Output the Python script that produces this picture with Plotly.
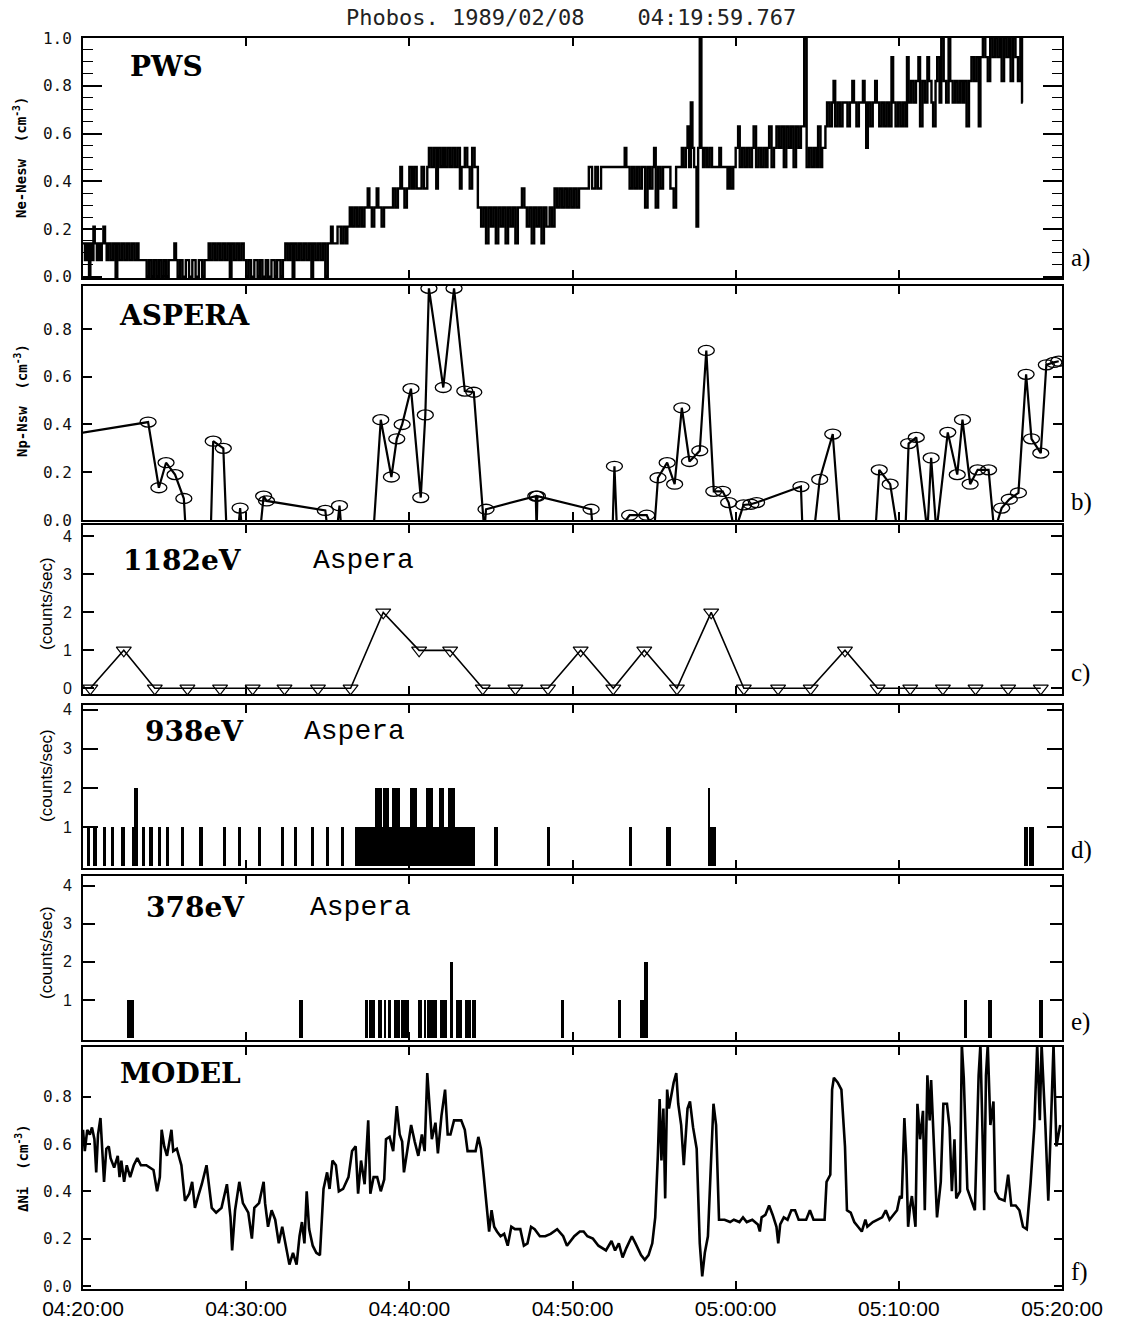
import plotly.graph_objects as go

# ---------------- data ----------------
TITLE = "Phobos. 1989/02/08    04:19:59.767"
TICK_MIN = [0, 10, 20, 30, 40, 50, 60]
TICK_TEXT = ["04:20:00", "04:30:00", "04:40:00", "04:50:00", "05:00:00", "05:10:00", "05:20:00"]

# a) PWS  Ne-Nesw (cm-3): (minutes after 04:20, value), step samples
PWS = [
    (0, .14), (.12, .07), (.25, .14), (.37, 0), (.45, .14), (.55, .07), (.64, .21), (.72, .14), (.85, .07), (.95, .14),
    (1.05, .07), (1.15, .14), (1.25, .21), (1.35, .14), (1.45, .07), (1.55, .14), (1.7, .07), (1.85, .14), (2.0, 0),
    (2.1, .14), (2.25, .07), (2.4, .14), (2.55, .07), (2.7, .14), (2.85, .07), (3.0, .14), (3.15, .07), (3.3, .14),
    (3.4, .07), (3.9, 0), (4.05, .07), (4.2, 0), (4.35, .07), (4.5, 0), (4.65, .07), (4.8, 0), (4.95, .07), (5.1, 0),
    (5.25, .07), (5.6, .14), (5.7, .07), (5.8, 0), (5.95, .07), (6.1, 0), (6.3, .07), (6.5, 0), (6.7, .07), (6.9, 0),
    (7.1, .07), (7.3, 0), (7.45, .07), (7.7, .14), (7.8, .07), (7.95, .14), (8.1, .07), (8.25, .14), (8.4, .07),
    (8.55, .14), (8.7, .07), (8.85, .14), (9.0, 0), (9.1, .14), (9.25, .07), (9.4, .14), (9.55, .07), (9.7, .14),
    (9.85, .07), (10.0, 0), (10.15, .07), (10.3, 0), (10.5, .07), (10.7, 0), (10.85, .07), (11.0, 0), (11.2, .07),
    (11.35, 0), (11.55, .07), (11.75, 0), (11.9, .07), (12.1, 0), (12.25, .07), (12.4, .14), (12.55, .07), (12.7, .14),
    (12.85, 0), (12.95, .14), (13.1, .07), (13.25, .14), (13.4, .07), (13.55, .14), (13.7, .07), (13.85, .14), (14.0, 0),
    (14.1, .14), (14.25, .07), (14.4, .14), (14.55, .07), (14.7, .14), (14.85, 0), (15.0, .14), (15.2, .21), (15.3, .14),
    (15.6, .21), (15.8, .14), (15.95, .21), (16.1, .14), (16.2, .21), (16.35, .29), (16.5, .21), (16.65, .29), (16.8, .21),
    (16.95, .29), (17.1, .21), (17.25, .29), (17.45, .37), (17.55, .29), (17.7, .21), (17.85, .29), (18.0, .37),
    (18.1, .29), (18.3, .21), (18.45, .29), (19.0, .37), (19.15, .29), (19.3, .37), (19.45, .46), (19.55, .37),
    (19.7, .29), (19.85, .37), (20.0, .46), (20.15, .37), (20.3, .46), (20.45, .37), (20.75, .46), (20.9, .37),
    (21.1, .46), (21.2, .54), (21.35, .46), (21.5, .54), (21.65, .37), (21.75, .54), (21.9, .46), (22.05, .54),
    (22.2, .46), (22.35, .54), (22.5, .46), (22.65, .54), (22.8, .46), (22.95, .54), (23.1, .37), (23.2, .46),
    (23.4, .54), (23.55, .46), (23.7, .37), (23.85, .54), (24.0, .46), (24.2, .29), (24.4, .21), (24.55, .29),
    (24.7, .14), (24.85, .29), (25.0, .21), (25.15, .29), (25.3, .14), (25.45, .29), (25.6, .21), (25.75, .29),
    (25.9, .14), (26.05, .29), (26.2, .21), (26.35, .29), (26.5, .14), (26.65, .29), (26.9, .37), (27.05, .29),
    (27.2, .21), (27.35, .29), (27.5, .14), (27.65, .29), (27.8, .21), (27.95, .29), (28.1, .14), (28.25, .29),
    (28.4, .21), (28.6, .29), (28.75, .21), (28.9, .37), (29.05, .29), (29.2, .37), (29.35, .29), (29.5, .37),
    (29.65, .29), (29.8, .37), (29.95, .29), (30.1, .37), (30.25, .29), (30.4, .37), (31.0, .46), (31.2, .37),
    (31.4, .46), (31.55, .37), (31.75, .46), (33.2, .54), (33.3, .46), (33.5, .37), (33.65, .46), (33.8, .37),
    (33.95, .46), (34.1, .37), (34.25, .46), (34.45, .29), (34.6, .46), (34.75, .37), (34.9, .46), (35.0, .54),
    (35.1, .29), (35.25, .46), (35.4, .37), (35.55, .46), (36.0, .37), (36.2, .29), (36.35, .46), (36.7, .54),
    (36.8, .46), (36.95, .54), (37.05, .63), (37.15, .46), (37.25, .73), (37.35, .54), (37.45, .46), (37.6, .21),
    (37.7, .54), (37.8, 1.0), (37.9, .54), (38.0, .46), (38.1, .54), (38.25, .46), (38.4, .54), (38.55, .46),
    (39.0, .54), (39.1, .46), (39.5, .37), (39.6, .46), (39.7, .37), (39.85, .46), (40.0, .54), (40.15, .63),
    (40.25, .46), (40.4, .54), (40.55, .46), (40.7, .54), (40.85, .46), (41.0, .54), (41.1, .63), (41.25, .46),
    (41.4, .54), (41.55, .46), (41.7, .54), (41.85, .46), (41.95, .54), (42.05, .63), (42.2, .46), (42.35, .54),
    (42.5, .63), (42.65, .54), (42.8, .63), (42.95, .46), (43.1, .63), (43.25, .54), (43.4, .63), (43.55, .46),
    (43.7, .63), (43.85, .54), (44.0, .63), (44.2, 1.0), (44.35, .46), (44.5, .54), (44.65, .46), (44.8, .54),
    (44.95, .46), (45.05, .63), (45.2, .46), (45.3, .54), (45.5, .63), (45.6, .73), (45.75, .63), (45.9, .73),
    (46.0, .82), (46.1, .63), (46.25, .73), (46.4, .63), (46.55, .73), (46.85, .63), (47.0, .73), (47.15, .82),
    (47.25, .73), (47.4, .63), (47.55, .73), (47.8, .82), (47.9, .73), (48.0, .54), (48.1, .73), (48.25, .63),
    (48.4, .73), (48.55, .82), (48.65, .73), (48.8, .63), (48.95, .73), (49.1, .63), (49.25, .73), (49.4, .63),
    (49.55, .92), (49.65, .73), (49.8, .63), (49.95, .73), (50.1, .63), (50.25, .73), (50.4, .63), (50.5, .92),
    (50.6, .73), (50.75, .82), (50.9, .73), (51.05, .82), (51.2, .92), (51.3, .63), (51.45, .82), (51.6, .73),
    (51.75, .92), (51.85, .82), (52.0, .73), (52.1, .63), (52.25, .82), (52.35, .92), (52.5, .73), (52.6, 1.0),
    (52.75, .82), (52.9, .73), (53.05, 1.0), (53.15, .82), (53.3, .73), (53.45, .82), (53.6, .73), (53.75, .82),
    (53.9, .73), (54.0, .82), (54.15, .63), (54.3, .82), (54.45, .92), (54.6, .82), (54.75, .92), (54.9, .63),
    (55.0, .92), (55.15, 1.0), (55.3, .92), (55.45, .82), (55.6, 1.0), (55.75, .92), (55.9, 1.0), (56.05, .92),
    (56.2, 1.0), (56.3, .82), (56.45, 1.0), (56.6, .92), (56.75, 1.0), (56.85, .82), (57.0, 1.0), (57.15, .92),
    (57.3, .82), (57.45, 1.0), (57.55, .73), (57.6, .73),
]

# b) ASPERA  Np-Nsw (cm-3); negative values = drop below the axis
ASPERA = [
    (-0.5, 0.36), (3.99, 0.41), (4.65, 0.135), (5.09, 0.24), (5.64, 0.19), (6.18, 0.09), (6.3, -0.05),
    (7.83, -0.05), (7.98, 0.33), (8.6, 0.30), (8.8, -0.05), (9.5, -0.05), (9.63, 0.05), (9.75, -0.05),
    (10.85, -0.05), (11.07, 0.10), (11.25, 0.08), (14.85, 0.04), (15.0, -0.05), (15.55, -0.05), (15.72, 0.06),
    (15.85, -0.05), (17.8, -0.05), (18.25, 0.42), (18.9, 0.18), (19.23, 0.34), (19.56, 0.40), (20.1, 0.55),
    (20.7, 0.094), (20.98, 0.44), (21.2, 0.97), (22.08, 0.555), (22.74, 0.97), (23.4, 0.54), (23.95, 0.535),
    (24.6, -0.05), (24.7, 0.045), (27.75, 0.10), (27.8, -0.05), (27.85, 0.10), (31.14, 0.045), (31.25, -0.05),
    (32.45, -0.05), (32.57, 0.225), (32.73, -0.05), (33.5, 0.02), (34.55, 0.02), (35.0, -0.05), (35.24, 0.177),
    (35.8, 0.24), (36.26, 0.15), (36.7, 0.47), (37.17, 0.245), (37.8, 0.29), (38.2, 0.71), (38.66, 0.12),
    (39.2, 0.12), (39.57, 0.073), (39.95, -0.05), (40.48, 0.063), (40.93, 0.066), (41.28, 0.073), (44.0, 0.14),
    (44.1, -0.05), (44.8, -0.05), (45.15, 0.17), (45.95, 0.36), (46.4, -0.05), (48.56, -0.05), (48.8, 0.21),
    (49.47, 0.15), (49.93, -0.05), (50.4, -0.05), (50.6, 0.32), (51.07, 0.346), (51.75, -0.05), (51.98, 0.26),
    (52.3, -0.05), (53.0, 0.367), (53.58, 0.19), (53.9, 0.42), (54.37, 0.15), (54.83, 0.21), (55.5, 0.21),
    (55.85, -0.05), (56.3, 0.05), (56.77, 0.087), (57.33, 0.114), (57.8, 0.61), (58.13, 0.34), (58.7, 0.28),
    (59.04, 0.65), (59.5, 0.66), (59.8, 0.665),
]

# c) 1182 eV counts/sec
C1182_T = [0.45, 2.5, 4.4, 6.4, 8.4, 10.4, 12.35, 14.4, 16.4, 18.4, 20.6, 22.5, 24.5, 26.5, 28.5,
           30.5, 32.5, 34.4, 36.4, 38.5, 40.5, 42.6, 44.6, 46.7, 48.7, 50.7, 52.7, 54.7, 56.7, 58.7]
C1182_V = [0, 1, 0, 0, 0, 0, 0, 0, 0, 2, 1, 1, 0, 0, 0, 1, 0, 1, 0, 2, 0, 0, 0, 1, 0, 0, 0, 0, 0, 0]

# d) 938 eV pulses: start, end (minutes), counts/sec
D938_START = [0.25, 0.6, 1.2, 1.72, 2.3, 3.05, 3.15, 3.6, 4.07, 4.58, 5.08, 6.0, 7.13, 8.55, 9.47, 10.7,
              12.13, 12.94, 13.96, 14.88, 15.8, 16.7, 17.9, 18.3, 18.4, 18.75, 18.95, 19.4, 20.05, 20.45,
              21.05, 21.45, 21.8, 22.1, 22.35, 22.8, 25.2, 28.42, 33.45, 35.7, 38.3, 38.45, 57.65, 58.0]
D938_END = [0.45, 0.85, 1.4, 1.92, 2.6, 3.15, 3.35, 3.8, 4.27, 4.78, 5.28, 6.2, 7.33, 8.75, 9.67, 10.9,
            12.33, 13.14, 14.16, 15.08, 16.0, 17.9, 18.3, 18.4, 18.75, 18.95, 19.4, 20.05, 20.45, 21.05,
            21.45, 21.8, 22.1, 22.35, 22.8, 24.05, 25.45, 28.62, 33.65, 36.05, 38.45, 38.8, 57.9, 58.3]
D938_H = [1, 1, 1, 1, 1, 1, 2, 1, 1, 1, 1, 1, 1, 1, 1, 1,
          1, 1, 1, 1, 1, 1, 2, 1, 2, 1, 2, 1, 2, 1,
          2, 1, 2, 1, 2, 1, 1, 1, 1, 1, 2, 1, 1, 1]

# e) 378 eV pulses
E378_START = [2.7, 13.23, 17.3, 17.55, 18.1, 18.45, 18.7, 19.05, 19.5, 20.55, 20.9, 21.1, 21.9, 22.52,
              22.85, 23.4, 23.85, 29.3, 32.8, 34.15, 34.38, 54.0, 55.45, 58.6]
E378_END = [3.14, 13.5, 17.45, 17.88, 18.3, 18.6, 18.9, 19.4, 19.95, 20.8, 21.0, 21.7, 22.3, 22.68,
            23.2, 23.75, 24.07, 29.5, 33.0, 34.38, 34.6, 54.2, 55.7, 58.85]
E378_H = [1, 1, 1, 1, 1, 1, 1, 1, 1, 1, 1, 1, 1, 2, 1, 1, 1, 1, 1, 1, 2, 1, 1, 1]

# f) MODEL  dNi (cm-3)
MODEL = [
    (0, 0.66), (0.11, 0.57), (0.26, 0.66), (0.42, 0.64), (0.55, 0.67), (0.7, 0.62), (0.81, 0.48), (0.92, 0.64),
    (1.07, 0.71), (1.18, 0.54), (1.29, 0.44), (1.43, 0.58), (1.58, 0.59), (1.69, 0.54), (1.91, 0.50), (2.13, 0.55),
    (2.24, 0.46), (2.35, 0.53), (2.52, 0.44), (2.68, 0.51), (2.89, 0.46), (3.11, 0.51), (3.33, 0.54), (3.55, 0.51),
    (3.88, 0.51), (4.32, 0.49), (4.54, 0.40), (4.71, 0.46), (4.82, 0.66), (4.98, 0.59), (5.15, 0.55), (5.42, 0.66),
    (5.53, 0.57), (5.75, 0.58), (6.03, 0.51), (6.25, 0.36), (6.51, 0.39), (6.69, 0.44), (6.86, 0.33), (7.06, 0.38),
    (7.28, 0.43), (7.57, 0.51), (7.72, 0.42), (7.89, 0.33), (8.16, 0.31), (8.49, 0.33), (8.82, 0.43), (9.04, 0.29),
    (9.14, 0.15), (9.32, 0.32), (9.58, 0.44), (9.8, 0.35), (10.13, 0.31), (10.35, 0.20), (10.5, 0.33), (10.79, 0.35),
    (11.07, 0.44), (11.16, 0.35), (11.34, 0.25), (11.56, 0.32), (11.78, 0.28), (12.0, 0.18), (12.21, 0.25),
    (12.43, 0.17), (12.65, 0.09), (12.87, 0.14), (13.09, 0.09), (13.27, 0.21), (13.42, 0.27), (13.57, 0.18),
    (13.71, 0.40), (13.86, 0.24), (14.08, 0.17), (14.3, 0.14), (14.52, 0.13), (14.74, 0.41), (14.96, 0.48),
    (15.11, 0.41), (15.29, 0.53), (15.5, 0.51), (15.68, 0.40), (15.94, 0.41), (16.27, 0.46), (16.49, 0.57),
    (16.71, 0.59), (16.86, 0.39), (17.04, 0.53), (17.26, 0.43), (17.48, 0.70), (17.61, 0.39), (17.81, 0.46),
    (18.03, 0.46), (18.25, 0.40), (18.46, 0.45), (18.57, 0.62), (18.79, 0.63), (19.01, 0.57), (19.23, 0.76),
    (19.41, 0.64), (19.56, 0.61), (19.67, 0.48), (19.89, 0.58), (20.11, 0.68), (20.33, 0.61), (20.55, 0.55),
    (20.77, 0.64), (20.94, 0.57), (21.1, 0.90), (21.25, 0.73), (21.38, 0.62), (21.6, 0.69), (21.75, 0.56),
    (21.97, 0.72), (22.19, 0.83), (22.35, 0.64), (22.52, 0.64), (22.74, 0.70), (23.18, 0.70), (23.4, 0.66),
    (23.57, 0.57), (23.84, 0.57), (24.06, 0.57), (24.23, 0.63), (24.39, 0.58), (24.54, 0.48), (24.71, 0.36),
    (24.89, 0.23), (25.04, 0.32), (25.2, 0.25), (25.37, 0.23), (25.59, 0.21), (25.81, 0.22), (26.03, 0.17),
    (26.25, 0.25), (26.47, 0.24), (26.8, 0.24), (27.02, 0.17), (27.24, 0.18), (27.46, 0.25), (27.68, 0.24),
    (28.0, 0.21), (28.33, 0.21), (28.66, 0.22), (29.06, 0.24), (29.43, 0.21), (29.66, 0.17), (29.89, 0.19),
    (30.11, 0.21), (30.45, 0.23), (30.68, 0.23), (30.91, 0.21), (31.25, 0.20), (31.59, 0.17), (31.82, 0.16),
    (32.05, 0.15), (32.39, 0.19), (32.61, 0.15), (32.84, 0.18), (33.07, 0.12), (33.3, 0.16), (33.64, 0.21),
    (33.86, 0.18), (34.2, 0.13), (34.43, 0.11), (34.66, 0.13), (34.89, 0.18), (35.07, 0.29), (35.23, 0.55),
    (35.34, 0.79), (35.45, 0.53), (35.57, 0.75), (35.68, 0.37), (35.8, 0.83), (35.91, 0.75), (36.02, 0.79),
    (36.2, 0.86), (36.36, 0.90), (36.48, 0.77), (36.66, 0.68), (36.82, 0.51), (37.05, 0.75), (37.2, 0.78),
    (37.39, 0.67), (37.61, 0.58), (37.8, 0.18), (37.95, 0.04), (38.11, 0.14), (38.3, 0.21), (38.48, 0.51),
    (38.64, 0.77), (38.8, 0.68), (38.98, 0.28), (39.32, 0.28), (39.66, 0.27), (39.89, 0.28), (40.23, 0.27),
    (40.45, 0.29), (40.68, 0.27), (41.02, 0.28), (41.36, 0.26), (41.48, 0.23), (41.59, 0.29), (41.82, 0.30),
    (42.05, 0.34), (42.27, 0.30), (42.5, 0.25), (42.61, 0.18), (42.73, 0.26), (42.95, 0.29), (43.18, 0.28),
    (43.41, 0.32), (43.64, 0.32), (43.86, 0.28), (44.09, 0.28), (44.32, 0.28), (44.55, 0.32), (44.77, 0.28),
    (45.11, 0.28), (45.45, 0.28), (45.57, 0.44), (45.8, 0.47), (45.91, 0.83), (46.02, 0.88), (46.25, 0.86),
    (46.48, 0.83), (46.7, 0.59), (46.82, 0.32), (47.05, 0.31), (47.27, 0.27), (47.5, 0.25), (47.73, 0.23),
    (47.95, 0.28), (48.07, 0.25), (48.41, 0.27), (48.75, 0.28), (48.98, 0.29), (49.2, 0.32), (49.43, 0.28),
    (49.66, 0.30), (49.89, 0.32), (50.07, 0.38), (50.18, 0.37), (50.34, 0.71), (50.45, 0.55), (50.57, 0.25),
    (50.68, 0.33), (50.8, 0.38), (51.02, 0.25), (51.14, 0.77), (51.3, 0.62), (51.48, 0.74), (51.59, 0.32),
    (51.75, 0.89), (51.89, 0.70), (51.98, 0.87), (52.16, 0.59), (52.34, 0.29), (52.57, 0.44), (52.73, 0.77),
    (52.95, 0.77), (53.11, 0.67), (53.25, 0.40), (53.41, 0.62), (53.52, 0.37), (53.75, 0.40), (53.86, 1.02),
    (53.98, 0.88), (54.2, 0.41), (54.43, 0.36), (54.66, 0.32), (54.89, 0.89), (55.0, 1.02), (55.11, 0.70),
    (55.23, 0.32), (55.34, 0.89), (55.45, 1.02), (55.61, 0.68), (55.8, 0.78), (55.91, 0.40), (56.14, 0.37),
    (56.48, 0.36), (56.7, 0.47), (56.89, 0.34), (57.16, 0.34), (57.39, 0.32), (57.61, 0.25), (57.84, 0.24),
    (58.07, 0.43), (58.3, 0.67), (58.48, 1.02), (58.64, 0.70), (58.75, 1.02), (58.98, 0.68), (59.16, 0.36),
    (59.32, 0.68), (59.48, 1.02), (59.66, 0.59), (59.89, 0.68),
]

# ---------------- layout helpers ----------------
W, H = 1121, 1322
ML, MR, MT, MB = 83, 59, 38, 33
PW, PH = W - ML - MR, H - MT - MB


def fx(p):
    return (p - ML) / PW


def fy(p):
    return (H - MB - p) / PH


PANELS = [(38, 278), (286, 520), (525, 694), (705, 868), (876, 1040), (1047, 1289)]
DOMAINS = [[fy(b), fy(t)] for t, b in PANELS]

fig = go.Figure()

# a) PWS
fig.add_trace(go.Scatter(x=[p[0] for p in PWS], y=[p[1] for p in PWS], mode="lines",
                         line=dict(color="black", width=2.4, shape="hv"), xaxis="x", yaxis="y"))

# b) ASPERA
fig.add_trace(go.Scatter(x=[p[0] for p in ASPERA], y=[p[1] for p in ASPERA], mode="lines",
                         line=dict(color="black", width=2.2), xaxis="x2", yaxis="y2"))
shapes = []
for t, v in ASPERA:
    if v >= 0 and 0 <= t <= 60:
        shapes.append(dict(type="circle", xref="x2", yref="y2", xsizemode="pixel", ysizemode="pixel",
                           xanchor=t, yanchor=v, x0=-8, x1=8, y0=-5, y1=5,
                           line=dict(color="black", width=1.3), fillcolor="rgba(0,0,0,0)"))

# c) 1182 eV
fig.add_trace(go.Scatter(x=C1182_T, y=C1182_V, mode="lines+markers",
                         line=dict(color="black", width=1.6),
                         marker=dict(symbol="triangle-down-open", size=13, color="black", line=dict(width=1.2)),
                         xaxis="x3", yaxis="y3"))


def pulses(starts, ends, heights, xa, ya):
    return go.Bar(x=[(s + e) / 2 for s, e in zip(starts, ends)], y=heights,
                  width=[e - s for s, e in zip(starts, ends)], base=0,
                  marker=dict(color="black", line=dict(width=0)), xaxis=xa, yaxis=ya)


fig.add_trace(pulses(D938_START, D938_END, D938_H, "x4", "y4"))
fig.add_trace(pulses(E378_START, E378_END, E378_H, "x5", "y5"))

# f) MODEL
fig.add_trace(go.Scatter(x=[p[0] for p in MODEL], y=[p[1] for p in MODEL], mode="lines",
                         line=dict(color="black", width=2.6), xaxis="x6", yaxis="y6"))

# ---------------- axes ----------------
layout = {}
for i in range(6):
    key = "xaxis" if i == 0 else f"xaxis{i + 1}"
    layout[key] = dict(range=[0, 60], domain=[0, 1], anchor="y" if i == 0 else f"y{i + 1}",
                       tickvals=TICK_MIN, ticktext=TICK_TEXT, ticks="inside", ticklen=8, tickwidth=1.5,
                       tickcolor="black", showline=True, linewidth=2, linecolor="black", mirror="ticks",
                       showgrid=False, zeroline=False, showticklabels=(i == 5), automargin=False,
                       tickfont=dict(family="Liberation Sans", size=21, color="black"),
                       ticklabelstandoff=0)

mono = dict(family="DejaVu Sans Mono", size=16, color="#111")
sans = dict(family="Liberation Sans", size=16, color="#111")
Y_SPECS = [
    dict(range=[-0.005, 1.0], tickvals=[0, .2, .4, .6, .8, 1.0], tickformat=".1f", ticklen=19, tickfont=mono,
         minor=dict(dtick=0.05, tick0=0, ticks="inside", ticklen=10, tickwidth=1.2, tickcolor="black")),
    dict(range=[0.0, 0.98], tickvals=[0, .2, .4, .6, .8], tickformat=".1f", ticklen=9, tickfont=mono),
    dict(range=[-0.15, 4.3], tickvals=[0, 1, 2, 3, 4], ticklen=11, tickfont=sans),
    dict(range=[-0.05, 4.12], tickvals=[1, 2, 3, 4], ticklen=15, tickfont=sans),
    dict(range=[-0.05, 4.25], tickvals=[1, 2, 3, 4], ticklen=12, tickfont=sans),
    dict(range=[-0.013, 1.01], tickvals=[0, .2, .4, .6, .8], tickformat=".1f", ticklen=8, tickfont=mono),
]
for i, spec in enumerate(Y_SPECS):
    key = "yaxis" if i == 0 else f"yaxis{i + 1}"
    layout[key] = dict(domain=DOMAINS[i], anchor="x" if i == 0 else f"x{i + 1}", ticks="inside",
                       tickwidth=1.5, tickcolor="black", showline=True, linewidth=2, linecolor="black",
                       mirror="ticks", showgrid=False, zeroline=False, automargin=False,
                       ticklabelstandoff=6, **spec)

# ---------------- texts ----------------
ann = []


def text(x, y, s, size, family, xanchor="left", color="black", angle=0):
    ann.append(dict(x=fx(x), y=fy(y), xref="paper", yref="paper", text=s, showarrow=False,
                    xanchor=xanchor, yanchor="middle", textangle=angle,
                    font=dict(family=family, size=size, color=color)))


text(571, 17, TITLE, 22, "DejaVu Sans Mono", "center", "#222")
BIG = "DejaVu Serif"
SMALL = "Liberation Mono"
text(128, 66, "<b>PWS</b>", 28, BIG)
text(117, 315, "<b>ASPERA</b>", 28, BIG)
text(121, 560, "<b>1182eV</b>", 28, BIG)
text(311, 560, "Aspera", 28, SMALL)
text(143, 731, "<b>938eV</b>", 28, BIG)
text(302, 731, "Aspera", 28, SMALL)
text(144, 907, "<b>378eV</b>", 28, BIG)
text(308, 907, "Aspera", 28, SMALL)
text(118, 1073, "<b>MODEL</b>", 28, BIG)

text(20, 158, "<b>Ne-Nesw  (cm<sup>-3</sup>)</b>", 14, "DejaVu Sans Mono", "center", angle=-90)
text(21, 400, "<b>Np-Nsw  (cm<sup>-3</sup>)</b>", 14, "DejaVu Sans Mono", "center", angle=-90)
for yc in (604, 776, 953):
    text(46, yc, "(counts/sec)", 17, "Liberation Sans", "center", angle=-90)
text(22, 1168, "<b>ΔNi  (cm<sup>-3</sup>)</b>", 14, "DejaVu Sans Mono", "center", angle=-90)

for lab, yc in (("a)", 258), ("b)", 502), ("c)", 673), ("d)", 850), ("e)", 1022), ("f)", 1272)):
    text(1069, yc, lab, 25, "Liberation Serif")

fig.update_layout(width=W, height=H, margin=dict(l=ML, r=MR, t=MT, b=MB, autoexpand=False),
                  paper_bgcolor="white", plot_bgcolor="white", showlegend=False,
                  template="none", annotations=ann, shapes=shapes, bargap=0,
                  font=dict(family="DejaVu Sans", color="black"), **layout)

fig.write_html("out.html", config={"displayModeBar": False},
               post_script="document.body.style.margin='0';document.body.style.padding='0';")
